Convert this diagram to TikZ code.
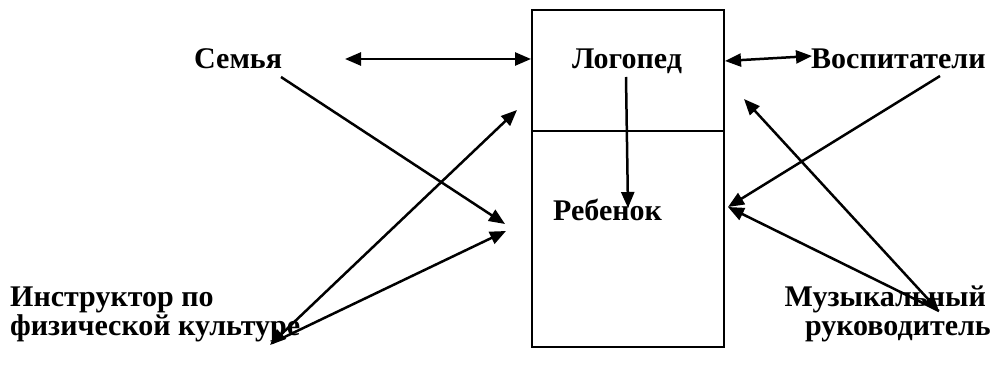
\documentclass[tikz,border=0pt]{standalone}
\usepackage{fontspec}
\setmainfont{Liberation Serif}
\usetikzlibrary{arrows.meta}
\begin{document}
\begin{tikzpicture}[x=1pt,y=-1pt,
  lbl/.style={font=\fontsize{30}{33}\selectfont\bfseries, inner sep=0pt},
  boxx/.style={draw, line width=1.5pt, inner sep=0pt, minimum width=192pt},
  conn/.style={line width=2.5pt, -{Triangle[length=16pt,width=13pt]}},
  dconn/.style={line width=2.5pt, {Triangle[length=16pt,width=13pt]}-{Triangle[length=16pt,width=13pt]}}
]
\useasboundingbox (0,0) rectangle (1001,371);
% boxes
\node[boxx, minimum height=121pt] (top) at (628,70.5) {};
\node[boxx, minimum height=216pt] (bot) at (628,239) {};
% labels
\node[lbl, anchor=base west] (sem) at (194,69) {Семья};
\node[lbl, anchor=base] (log) at (627,69) {Логопед};
\node[lbl, anchor=base west] (vos) at (811,69) {Воспитатели};
\node[lbl, anchor=base west] (reb) at (553,221) {Ребенок};
\node[lbl, anchor=base west] (ins1) at (10,306) {Инструктор по};
\node[lbl, anchor=base west] (ins2) at (10,335) {физической культуре};
\node[lbl, anchor=base east] (mus1) at (986,306) {Музыкальный};
\node[lbl, anchor=base east] (mus2) at (991,335) {руководитель};
% connector end points
\coordinate (semL) at (345,59);
\coordinate (logL) at (531,59);
\coordinate (logR) at (725,61);
\coordinate (vosL) at (812,56);
\coordinate (logB) at (626,77);
\coordinate (rebT) at (628,208);
\coordinate (semB) at (281,77);
\coordinate (rebL1) at (505,224);
\coordinate (insA) at (270,345);
\coordinate (topL) at (517,110);
\coordinate (insB) at (272,343);
\coordinate (rebL2) at (506,231);
\coordinate (vosB) at (940,76);
\coordinate (rebR) at (728,207);
\coordinate (musT) at (939,311);
\coordinate (topR) at (744,99);
% connectors
\draw[dconn] (semL) -- (logL);
\draw[dconn] (logR) -- (vosL);
\draw[conn] (logB) -- (rebT);
\draw[conn] (semB) -- (rebL1);
\draw[dconn] (insA) -- (topL);
\draw[conn] (insB) -- (rebL2);
\draw[conn] (vosB) -- (rebR);
\draw[conn] (musT) -- (rebR);
\draw[dconn] (topR) -- (musT);
\end{tikzpicture}
\end{document}
